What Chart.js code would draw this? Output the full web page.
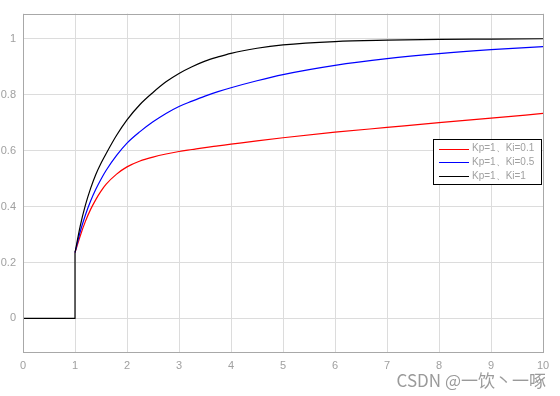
<!DOCTYPE html>
<html>
<head>
<meta charset="utf-8">
<script src="https://cdn.jsdelivr.net/npm/chart.js@4"></script>
<style>
    html, body { margin: 0; padding: 0; background: #fff; }
    #wrap { width: 560px; height: 396px; }
</style>
</head>
<body>
<div id="wrap"><canvas id="chartCanvas" width="560" height="396"></canvas></div>
<script>
// time points (step input at t = 1)
const times = [1, 1.1, 1.2, 1.3, 1.4, 1.5, 1.6, 1.8, 2, 2.25, 2.5, 2.75, 3, 3.25, 3.5, 3.75, 4, 4.5, 5, 6, 7, 8, 9, 10];
const ki01 = [0.235, 0.295, 0.347, 0.39, 0.425, 0.455, 0.48, 0.516, 0.542, 0.563, 0.577, 0.588, 0.597, 0.604, 0.611, 0.617, 0.623, 0.635, 0.646, 0.666, 0.683, 0.70, 0.716, 0.733];
const ki05 = [0.235, 0.31, 0.37, 0.42, 0.462, 0.498, 0.53, 0.583, 0.627, 0.668, 0.703, 0.733, 0.758, 0.777, 0.795, 0.811, 0.825, 0.85, 0.872, 0.905, 0.929, 0.947, 0.961, 0.972];
const ki1 = [0.235, 0.33, 0.405, 0.465, 0.515, 0.555, 0.59, 0.655, 0.71, 0.765, 0.808, 0.846, 0.876, 0.90, 0.92, 0.935, 0.948, 0.966, 0.978, 0.99, 0.995, 0.998, 0.999, 1.0];
const stepX = [0, 1, 1];
const stepY = [0, 0, 0.235];
const seriesLabels = ["Kp=1\u3001Ki=0.1", "Kp=1\u3001Ki=0.5", "Kp=1\u3001Ki=1"];
const xTicks = [0, 1, 2, 3, 4, 5, 6, 7, 8, 9, 10];
const yTicks = [0, 0.2, 0.4, 0.6, 0.8, 1];

const labelColor = '#a0a0a0';
const fontFamily = '"Liberation Sans", Arial, sans-serif';

function toPoints(xs, ys) {
    return xs.map((x, i) => ({ x: x, y: ys[i] }));
}

// box around the plot, legend and watermark
const extrasPlugin = {
    id: 'extras',
    afterDraw(chart) {
        const ctx = chart.ctx;
        const a = chart.chartArea;
        ctx.save();
        ctx.strokeStyle = '#a8a8a8';
        ctx.lineWidth = 1;
        ctx.strokeRect(Math.round(a.left) + 0.5, Math.round(a.top) + 0.5,
            Math.round(a.right - a.left), Math.round(a.bottom - a.top));

        // legend
        const lx = 433.5, ly = 139.5, lw = 108, lh = 45;
        ctx.fillStyle = '#fff';
        ctx.fillRect(lx, ly, lw, lh);
        ctx.strokeStyle = '#000';
        ctx.strokeRect(lx, ly, lw, lh);
        ctx.font = '10px ' + fontFamily;
        ctx.textBaseline = 'middle';
        ctx.textAlign = 'left';
        chart.data.datasets.slice(0, 3).forEach((ds, i) => {
            const y = 148.5 + i * 13.8;
            ctx.strokeStyle = ds.borderColor;
            ctx.lineWidth = 1;
            ctx.beginPath();
            ctx.moveTo(439, Math.round(y) + 0.5);
            ctx.lineTo(469, Math.round(y) + 0.5);
            ctx.stroke();
            ctx.fillStyle = labelColor;
            ctx.fillText(ds.label, 472, y);
        });

        // watermark
        ctx.font = '17px "Noto Sans CJK SC", ' + fontFamily;
        ctx.textAlign = 'right';
        ctx.textBaseline = 'alphabetic';
        ctx.fillStyle = '#9a9a9a';
        ctx.fillText('CSDN @\u4e00\u996e\u4e36\u4e00\u5544', 546, 387);
        ctx.restore();
    }
};

document.addEventListener("DOMContentLoaded", function() {
    const ctx = document.getElementById('chartCanvas').getContext('2d');
    const lineStyle = {
        borderWidth: 1.2,
        pointRadius: 0,
        fill: false,
        cubicInterpolationMode: 'monotone'
    };
    new Chart(ctx, {
        type: 'line',
        data: {
            datasets: [
                Object.assign({ label: seriesLabels[0], data: toPoints(times, ki01), borderColor: '#ff0000', order: 3 }, lineStyle),
                Object.assign({ label: seriesLabels[1], data: toPoints(times, ki05), borderColor: '#0000ff', order: 2 }, lineStyle),
                Object.assign({ label: seriesLabels[2], data: toPoints(times, ki1), borderColor: '#000000', order: 1 }, lineStyle),
                { label: 'step', data: toPoints(stepX, stepY), borderColor: '#000000', borderWidth: 1.2, pointRadius: 0, tension: 0, order: 0 }
            ]
        },
        options: {
            responsive: false,
            animation: false,
            layout: { padding: { top: 10, right: 17, left: 0, bottom: 0 } },
            plugins: { legend: { display: false }, tooltip: { enabled: false } },
            scales: {
                x: {
                    type: 'linear',
                    min: 0,
                    max: 10,
                    afterBuildTicks: scale => { scale.ticks = xTicks.map(v => ({ value: v })); },
                    afterFit: scale => { scale.height = 44; },
                    grid: { color: '#dcdcdc', drawTicks: false },
                    border: { display: false },
                    ticks: { color: labelColor, padding: 7, font: { size: 11, family: fontFamily }, maxRotation: 0 }
                },
                y: {
                    min: -0.12,
                    max: 1.09,
                    afterBuildTicks: scale => { scale.ticks = yTicks.map(v => ({ value: v })); },
                    afterFit: scale => { scale.width = 23; },
                    grid: { color: '#dcdcdc', drawTicks: false },
                    border: { display: false },
                    ticks: {
                        color: labelColor,
                        padding: 7,
                        font: { size: 11, family: fontFamily },
                        callback: v => String(Math.round(v * 10) / 10)
                    }
                }
            }
        },
        plugins: [extrasPlugin]
    });
});
</script>
</body>
</html>
